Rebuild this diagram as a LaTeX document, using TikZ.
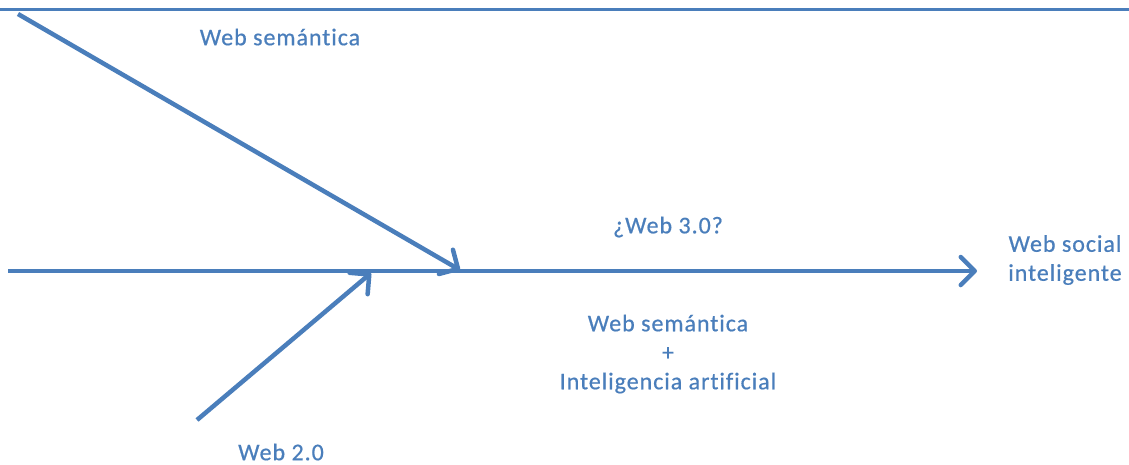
\documentclass[tikz,border=0pt]{standalone}
\usepackage{fontspec}
\setmainfont{Carlito}[LetterSpace=4,FakeBold=0.6,Ligatures=NoCommon]
\usetikzlibrary{arrows.meta}
\definecolor{webblue}{HTML}{4A7EBB}
\tikzset{
  lbl/.style={text=webblue,font=\fontsize{24}{29}\selectfont,align=center,inner sep=0pt},
  flecha/.style={draw=webblue,line width=4.5pt,-{Straight Barb[round,length=14pt,width=28pt]}}
}
\begin{document}
\begin{tikzpicture}[x=1pt,y=-1pt]
  \useasboundingbox (0,0) rectangle (1129,464);
  \draw[webblue,line width=3pt] (0,9) -- (1129,9);
  % extremos de las flechas
  \coordinate (semstart) at (18,14);
  \coordinate (semend) at (460,270);
  \coordinate (axstart) at (8,271);
  \coordinate (axend) at (977,271);
  \coordinate (w2start) at (197,420);
  \coordinate (w2end) at (371,273);
  \draw[flecha] (axstart) -- (axend);
  \draw[flecha] (semstart) -- (semend);
  \draw[flecha] (w2start) -- (w2end);
  % textos
  \node[lbl] (semtop) at (280,37) {Web semántica};
  \node[lbl] (web3) at (668,227) {¿Web 3.0?};
  \node[lbl] (social) at (1065,260) {Web social\\inteligente};
  \node[lbl] (suma) at (668,354) {Web semántica\\+\\Inteligencia artificial};
  \node[lbl] (web2) at (281,452) {Web 2.0};
\end{tikzpicture}
\end{document}
